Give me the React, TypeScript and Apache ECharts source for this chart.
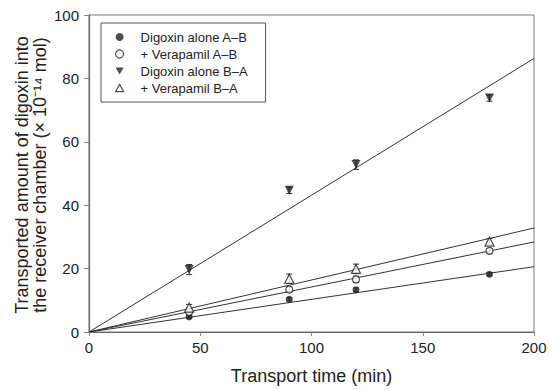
import React, { useEffect, useRef } from "react";
import * as echarts from "echarts";

const times = [45, 90, 120, 180];
const seriesNames = [
  "Digoxin alone A–B",
  "+ Verapamil A–B",
  "Digoxin alone B–A",
  "+ Verapamil B–A",
];
const digoxinAB = [4.8, 10.3, 13.3, 18.2];
const verapamilAB = [6.3, 13.4, 16.6, 25.6];
const digoxinBA = [19.7, 44.7, 52.8, 73.8];
const verapamilBA = [7.7, 16.8, 19.9, 28.5];
const errAB = [0.6, 0.5, 0.6, 0.5];
const errVerAB = [1.2, 0.8, 1.0, 0.7];
const errBA = [1.6, 1.0, 1.5, 1.0];
const errVerBA = [1.0, 1.5, 1.5, 1.0];
// fitted line value at t = 200
const fitEnd = [20.6, 28.4, 86.3, 32.8];
const xTicks = [0, 50, 100, 150, 200];
const yTicks = [0, 20, 40, 60, 80, 100];

const FONT = "'Liberation Sans', Arial, Helvetica, sans-serif";
const INK = "#222";
const DOWN_TRI = "path://M0,0L10,0L5,9Z";
const UP_TRI = "path://M5,0L10,9L0,9Z";

export default function App() {
  const ref = useRef<HTMLDivElement>(null);
  useEffect(() => {
    if (!ref.current) return;
    const chart = echarts.init(ref.current, undefined, { renderer: "svg" });
    const values = [digoxinAB, verapamilAB, digoxinBA, verapamilBA];
    const errs = [errAB, errVerAB, errBA, errVerBA];
    const symbols = ["circle", "circle", DOWN_TRI, UP_TRI];
    const filled = [true, false, true, false];
    const sizes = [7, 7, 9, 9];

    const errData: number[][] = [];
    values.forEach((vals, i) =>
      vals.forEach((v, j) => errData.push([times[j], v, errs[i][j]]))
    );

    const styleOf = (i: number) =>
      filled[i]
        ? { color: INK }
        : { color: "#fff", borderColor: INK, borderWidth: 1.2 };

    const scatterSeries = values.map((vals, i) => ({
      type: "scatter",
      name: seriesNames[i],
      data: vals.map((v, j) => [times[j], v]),
      symbol: symbols[i],
      symbolSize: sizes[i],
      z: 5,
      itemStyle: styleOf(i),
    }));
    const lineSeries = fitEnd.map((e) => ({
      type: "line",
      data: [
        [0, 0],
        [200, e],
      ],
      symbol: "none",
      silent: true,
      z: 3,
      lineStyle: { color: "#333", width: 1 },
    }));

    chart.setOption({
      animation: false,
      grid: {
        left: 89,
        right: 18,
        top: 15,
        bottom: 54,
        show: true,
        borderColor: "#777",
        borderWidth: 1,
      },
      xAxis: {
        type: "value",
        min: 0,
        max: 200,
        interval: 50,
        name: "Transport time (min)",
        nameLocation: "middle",
        nameGap: 35,
        nameTextStyle: { fontSize: 18, color: INK, fontFamily: FONT },
        axisLine: { lineStyle: { color: "#666", width: 1.2 } },
        axisTick: { show: true, length: 4, lineStyle: { color: "#888" } },
        axisLabel: {
          fontSize: 15,
          color: INK,
          fontFamily: FONT,
          margin: 8,
          formatter: (v: number) => (xTicks.includes(v) ? String(v) : ""),
        },
        splitLine: { show: false },
      },
      yAxis: {
        type: "value",
        min: 0,
        max: 100,
        interval: 20,
        axisLine: { show: true, lineStyle: { color: "#666", width: 1.2 } },
        axisTick: { show: true, length: 5, lineStyle: { color: "#888" } },
        axisLabel: {
          fontSize: 15,
          color: INK,
          fontFamily: FONT,
          margin: 10,
          formatter: (v: number) => (yTicks.includes(v) ? String(v) : ""),
        },
        splitLine: { show: false },
      },
      legend: {
        orient: "vertical",
        left: 101,
        top: 23,
        data: seriesNames.map((n, i) => ({
          name: n,
          icon: symbols[i],
          itemStyle: styleOf(i),
        })),
        itemWidth: 8,
        itemHeight: 8,
        itemGap: 3,
        padding: [7, 18, 7, 14],
        borderColor: "#555",
        borderWidth: 1,
        textStyle: {
          fontSize: 13,
          color: INK,
          fontFamily: FONT,
          padding: [0, 0, 0, 12],
          lineHeight: 14,
        },
      },
      graphic: [
        {
          type: "text",
          x: 31,
          y: 175,
          rotation: Math.PI / 2,
          style: {
            text:
              "Transported amount of digoxin into\nthe receiver chamber (× 10⁻¹⁴ mol)",
            fontSize: 18,
            lineHeight: 18,
            fontFamily: FONT,
            fill: INK,
            align: "center",
            verticalAlign: "middle",
          },
        },
      ],
      series: [
        ...lineSeries,
        {
          type: "custom",
          silent: true,
          z: 4,
          data: errData,
          renderItem: (params: any, api: any) => {
            const x = api.value(0);
            const y = api.value(1);
            const e = api.value(2);
            const top = api.coord([x, y + e]);
            const bot = api.coord([x, y - e]);
            const w = 3;
            const style = { stroke: "#333", lineWidth: 1 };
            return {
              type: "group",
              children: [
                { type: "line", shape: { x1: top[0], y1: top[1], x2: bot[0], y2: bot[1] }, style },
                { type: "line", shape: { x1: top[0] - w, y1: top[1], x2: top[0] + w, y2: top[1] }, style },
                { type: "line", shape: { x1: bot[0] - w, y1: bot[1], x2: bot[0] + w, y2: bot[1] }, style },
              ],
            };
          },
        },
        ...scatterSeries,
      ],
    });
    return () => chart.dispose();
  }, []);
  return (
    <div
      ref={ref}
      style={{ position: "fixed", left: 0, top: 0, width: 552, height: 390, background: "#fff" }}
    />
  );
}
